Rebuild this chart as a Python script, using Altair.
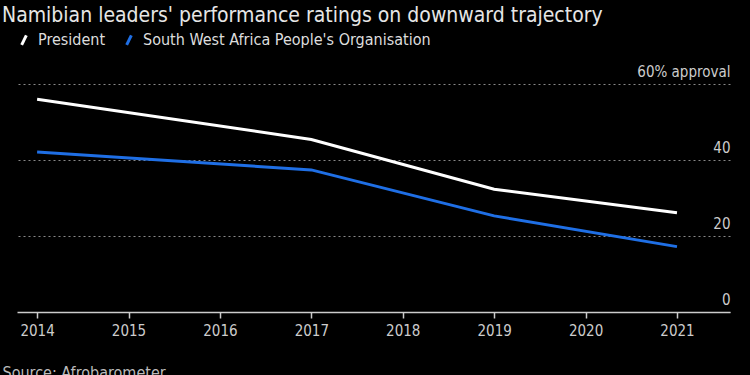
import altair as alt
import pandas as pd

years = [2014, 2017, 2019, 2021]
president = [56.0, 45.4, 32.3, 26.1]
swapo = [42.1, 37.4, 25.3, 17.2]
series_names = ["President", "South West Africa People's Organisation"]
series_colors = ["#ffffff", "#1f6fe5"]
y_ticks = [0, 20, 40, 60]
x_ticks = [2014, 2015, 2016, 2017, 2018, 2019, 2020, 2021]

rows = []
for y, v in zip(years, president):
    rows.append({"year": y, "value": v, "series": series_names[0]})
for y, v in zip(years, swapo):
    rows.append({"year": y, "value": v, "series": series_names[1]})
df = pd.DataFrame(rows)

FONT = "Liberation Sans Narrow, DejaVu Sans Condensed, sans-serif"

chart = alt.Chart(df).mark_line(strokeWidth=3).encode(
    x=alt.X("year:Q",
            scale=alt.Scale(domain=[2013.78, 2021.58], nice=False, zero=False),
            axis=alt.Axis(values=x_ticks, format="d", grid=False,
                          domainColor="#cccccc", domainWidth=1.5,
                          tickColor="#cccccc", tickSize=6, tickWidth=1.5,
                          labelColor="#cccccc", labelFontSize=15, labelFont=FONT,
                          labelPadding=5,
                          title="Source: Afrobarometer", titleAnchor="start",
                          titleAlign="left", titleX=-15, titleY=52,
                          titleColor="#bbbbbb", titleFont=FONT,
                          titleFontSize=16, titleFontWeight="normal")),
    y=alt.Y("value:Q",
            scale=alt.Scale(domain=[0, 60], nice=False),
            axis=alt.Axis(orient="right", values=y_ticks, grid=True,
                          gridColor="#888888", gridDash=[2, 3], gridWidth=1,
                          domain=False, ticks=False, tickSize=0,
                          labelAlign="right", labelPadding=0,
                          labelBaseline="alphabetic", labelOffset=-8,
                          labelColor="#cccccc", labelFontSize=15, labelFont=FONT,
                          labelExpr="datum.value == 60 ? '60% approval' : datum.label",
                          title=None)),
    color=alt.Color("series:N",
                    scale=alt.Scale(domain=series_names, range=series_colors),
                    legend=alt.Legend(orient="none", legendX=-1, legendY=-52,
                                      direction="horizontal", title=None,
                                      symbolType="M-0.45,0.9L0.45,-0.9",
                                      symbolStrokeWidth=3, symbolSize=110,
                                      labelFontSize=16, labelColor="#dddddd",
                                      labelFont=FONT, columnPadding=14,
                                      labelLimit=0,
                                      symbolOffset=0, labelOffset=6)),
).properties(
    width=713,
    height=228,
    padding={"left": 17, "top": 84, "right": 20, "bottom": 63},
    autosize=alt.AutoSizeParams(type="none"),
    background="#000000",
    title=alt.TitleParams(
        "Namibian leaders' performance ratings on downward trajectory",
        anchor="start", frame="group", dx=-15, offset=6,
        fontSize=21, font=FONT, fontWeight="normal", color="#e6e6e6"),
).configure_view(stroke=None)

chart.save("out.html", embed_options={"renderer": "svg", "actions": False})
